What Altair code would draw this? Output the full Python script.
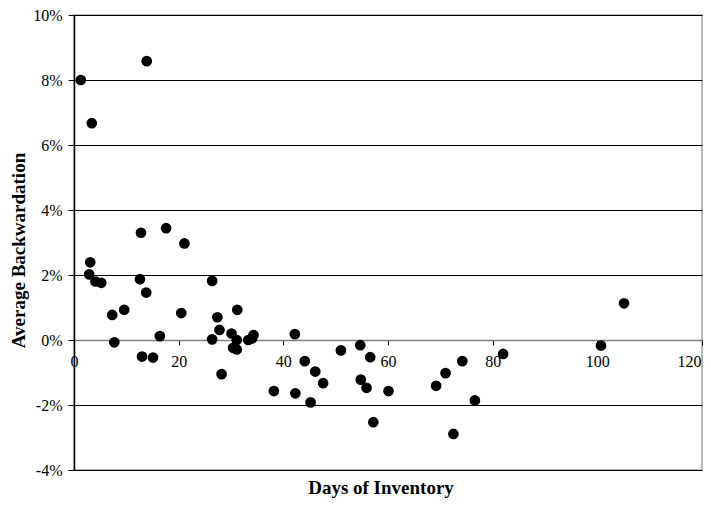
import altair as alt
import pandas as pd

days = [1.3, 13.9, 3.4, 3.1, 2.9, 4.1, 5.2, 12.8, 17.6, 21.1, 12.6, 13.8, 7.3, 9.6,
        7.7, 20.5, 16.4, 13.0, 15.1, 26.4, 27.4, 27.8, 26.4, 28.2, 31.2, 30.1, 31.1,
        30.4, 31.1, 33.3, 34.3, 34.0, 42.2, 51.0, 44.1, 46.1, 47.6, 38.2, 42.3, 45.2,
        54.7, 56.6, 54.8, 55.9, 60.1, 57.2, 69.2, 71.0, 74.2, 76.6, 72.5, 82.0, 100.7,
        105.1]
backwardation = [8.0, 8.58, 6.67, 2.39, 2.02, 1.80, 1.76, 3.30, 3.44, 2.97, 1.87, 1.46,
                 0.77, 0.93, -0.07, 0.83, 0.12, -0.51, -0.54, 1.82, 0.70, 0.31, 0.02,
                 -1.05, 0.93, 0.20, 0.00, -0.24, -0.29, 0.00, 0.15, 0.05, 0.18, -0.32,
                 -0.65, -0.97, -1.33, -1.57, -1.64, -1.92, -0.16, -0.53, -1.22, -1.47,
                 -1.57, -2.53, -1.41, -1.02, -0.65, -1.86, -2.89, -0.43, -0.17, 1.13]

x_ticks = [0, 20, 40, 60, 80, 100, 120]
y_ticks = [-4, -2, 0, 2, 4, 6, 8, 10]

df = pd.DataFrame({"days": days, "bw": backwardation})

FONT = "Liberation Serif"

chart = alt.Chart(df).mark_circle(size=115, color="black", opacity=1).encode(
    x=alt.X("days:Q",
            scale=alt.Scale(domain=[0, 120], nice=False, zero=False),
            axis=alt.Axis(values=x_ticks, title=None, offset=-130, grid=False,
                          domainColor="#808080", domainWidth=1.5,
                          tickColor="black", tickSize=5, labelPadding=8,
                          labelFont=FONT, labelFontSize=16, labelColor="black",
                          labelFlush=False, labelOverlap=False,
                          labelAlign=alt.condition("datum.value == 120",
                                                   alt.value("right"),
                                                   alt.value("center")),
                          labelOffset=alt.condition("datum.value == 120",
                                                    alt.value(-1),
                                                    alt.value(0)))),
    y=alt.Y("bw:Q",
            scale=alt.Scale(domain=[-4, 10], nice=False, zero=False),
            axis=alt.Axis(values=y_ticks, labelExpr="datum.value + '%'",
                          title="Average Backwardation", titleFont=FONT,
                          titleFontSize=19, titleFontWeight="bold", titleColor="black",
                          titlePadding=4, titleY=235,
                          grid=True, gridColor="black", gridWidth=1,
                          domainColor="black", domainWidth=1.5,
                          tickColor="black", tickSize=6, labelPadding=6,
                          labelFont=FONT, labelFontSize=16, labelColor="black",
                          labelFlush=False)),
).properties(
    width=628, height=455,
    title=alt.TitleParams(text="Days of Inventory", orient="bottom", font=FONT,
                          fontSize=19, fontWeight="bold", color="black", offset=1,
                          dx=-7),
    padding={"left": 66, "top": 7, "right": 1, "bottom": 30},
    autosize=alt.AutoSizeParams(type="none"),
).configure_view(stroke="#a0a0a0", strokeWidth=1.5)

chart.save("out.html", embed_options={"renderer": "svg", "actions": False})
